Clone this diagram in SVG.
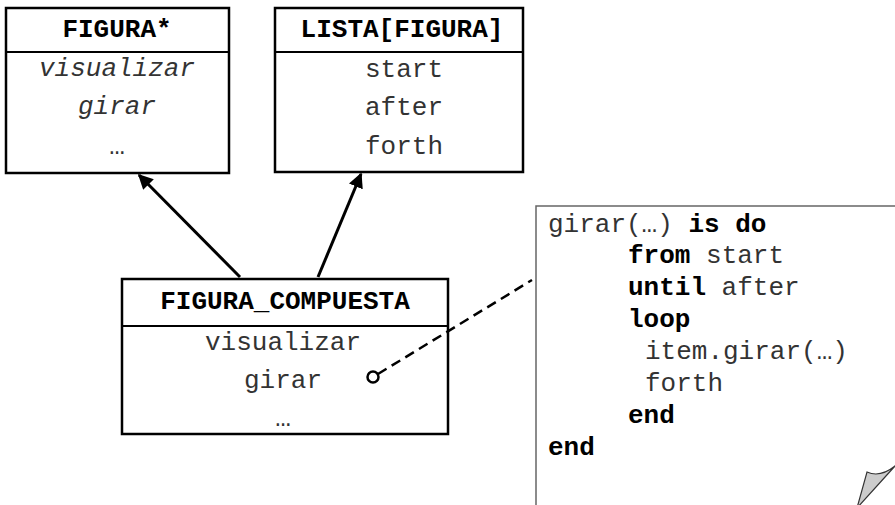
<svg xmlns="http://www.w3.org/2000/svg" width="895" height="505" viewBox="0 0 895 505">
<defs>
<style>
.box{fill:#fff;stroke:#000;stroke-width:2.5}
.div{stroke:#000;stroke-width:2}
text{font-family:"Liberation Mono","Courier New",monospace;font-size:26px;fill:#333}
.t{font-weight:bold;fill:#000;text-anchor:middle}
.m{text-anchor:middle}
.i{font-style:italic}
.b{font-weight:bold;fill:#000}
.arrow{stroke:#000;stroke-width:3;fill:none;marker-end:url(#ah)}
</style>
<marker id="ah" viewBox="0 0 10 10" refX="9" refY="5" markerWidth="5" markerHeight="5" orient="auto" markerUnits="strokeWidth">
<path d="M0,0 L10,5 L0,10 z" fill="#000"/>
</marker>
</defs>
<g id="figura">
<rect class="box" x="6" y="8" width="223" height="165"/>
<line class="div" x1="6" y1="52" x2="229" y2="52"/>
<text class="t" x="117" y="37">FIGURA*</text>
<text class="m i" x="117" y="76">visualizar</text>
<text class="m i" x="117" y="114">girar</text>
<text class="m" x="117" y="154">…</text>
</g>
<g id="lista">
<rect class="box" x="275" y="8" width="248" height="164"/>
<line class="div" x1="275" y1="52" x2="523" y2="52"/>
<text class="t" x="402" y="37">LISTA[FIGURA]</text>
<text class="m" x="404" y="77">start</text>
<text class="m" x="404" y="115">after</text>
<text class="m" x="404" y="154">forth</text>
</g>
<g id="figura_compuesta">
<rect class="box" x="122" y="279" width="326" height="155"/>
<line class="div" x1="122" y1="326" x2="448" y2="326"/>
<text class="t" x="285" y="309">FIGURA_COMPUESTA</text>
<text class="m" x="283" y="350">visualizar</text>
<text class="m" x="283" y="388">girar</text>
<text class="m" x="283" y="426">…</text>
</g>
<g id="nota">
<path d="M536,505 L536,206 L895,206" fill="#fff" stroke="#666" stroke-width="1.5"/>
<text x="548" y="232">girar(…) <tspan class="b">is do</tspan></text>
<text x="628" y="263"><tspan class="b">from</tspan> start</text>
<text x="628" y="295"><tspan class="b">until</tspan> after</text>
<text class="b" x="628" y="327">loop</text>
<text x="645" y="359">item.girar(…)</text>
<text x="645" y="391">forth</text>
<text class="b" x="628" y="423">end</text>
<text class="b" x="548" y="455">end</text>
<path d="M867,472 Q880,478 895,466 L857,508 Z" fill="#ccc" stroke="#333" stroke-width="1.2"/>
</g>
<g id="connectors">
<line class="arrow" x1="240" y1="277" x2="139" y2="175"/>
<line class="arrow" x1="318" y1="277" x2="361" y2="174"/>
<line x1="378" y1="374" x2="532" y2="280" stroke="#000" stroke-width="2.5" stroke-dasharray="10,6"/>
<circle cx="373" cy="377" r="5.5" fill="none" stroke="#000" stroke-width="2.5"/>
</g>
</svg>
